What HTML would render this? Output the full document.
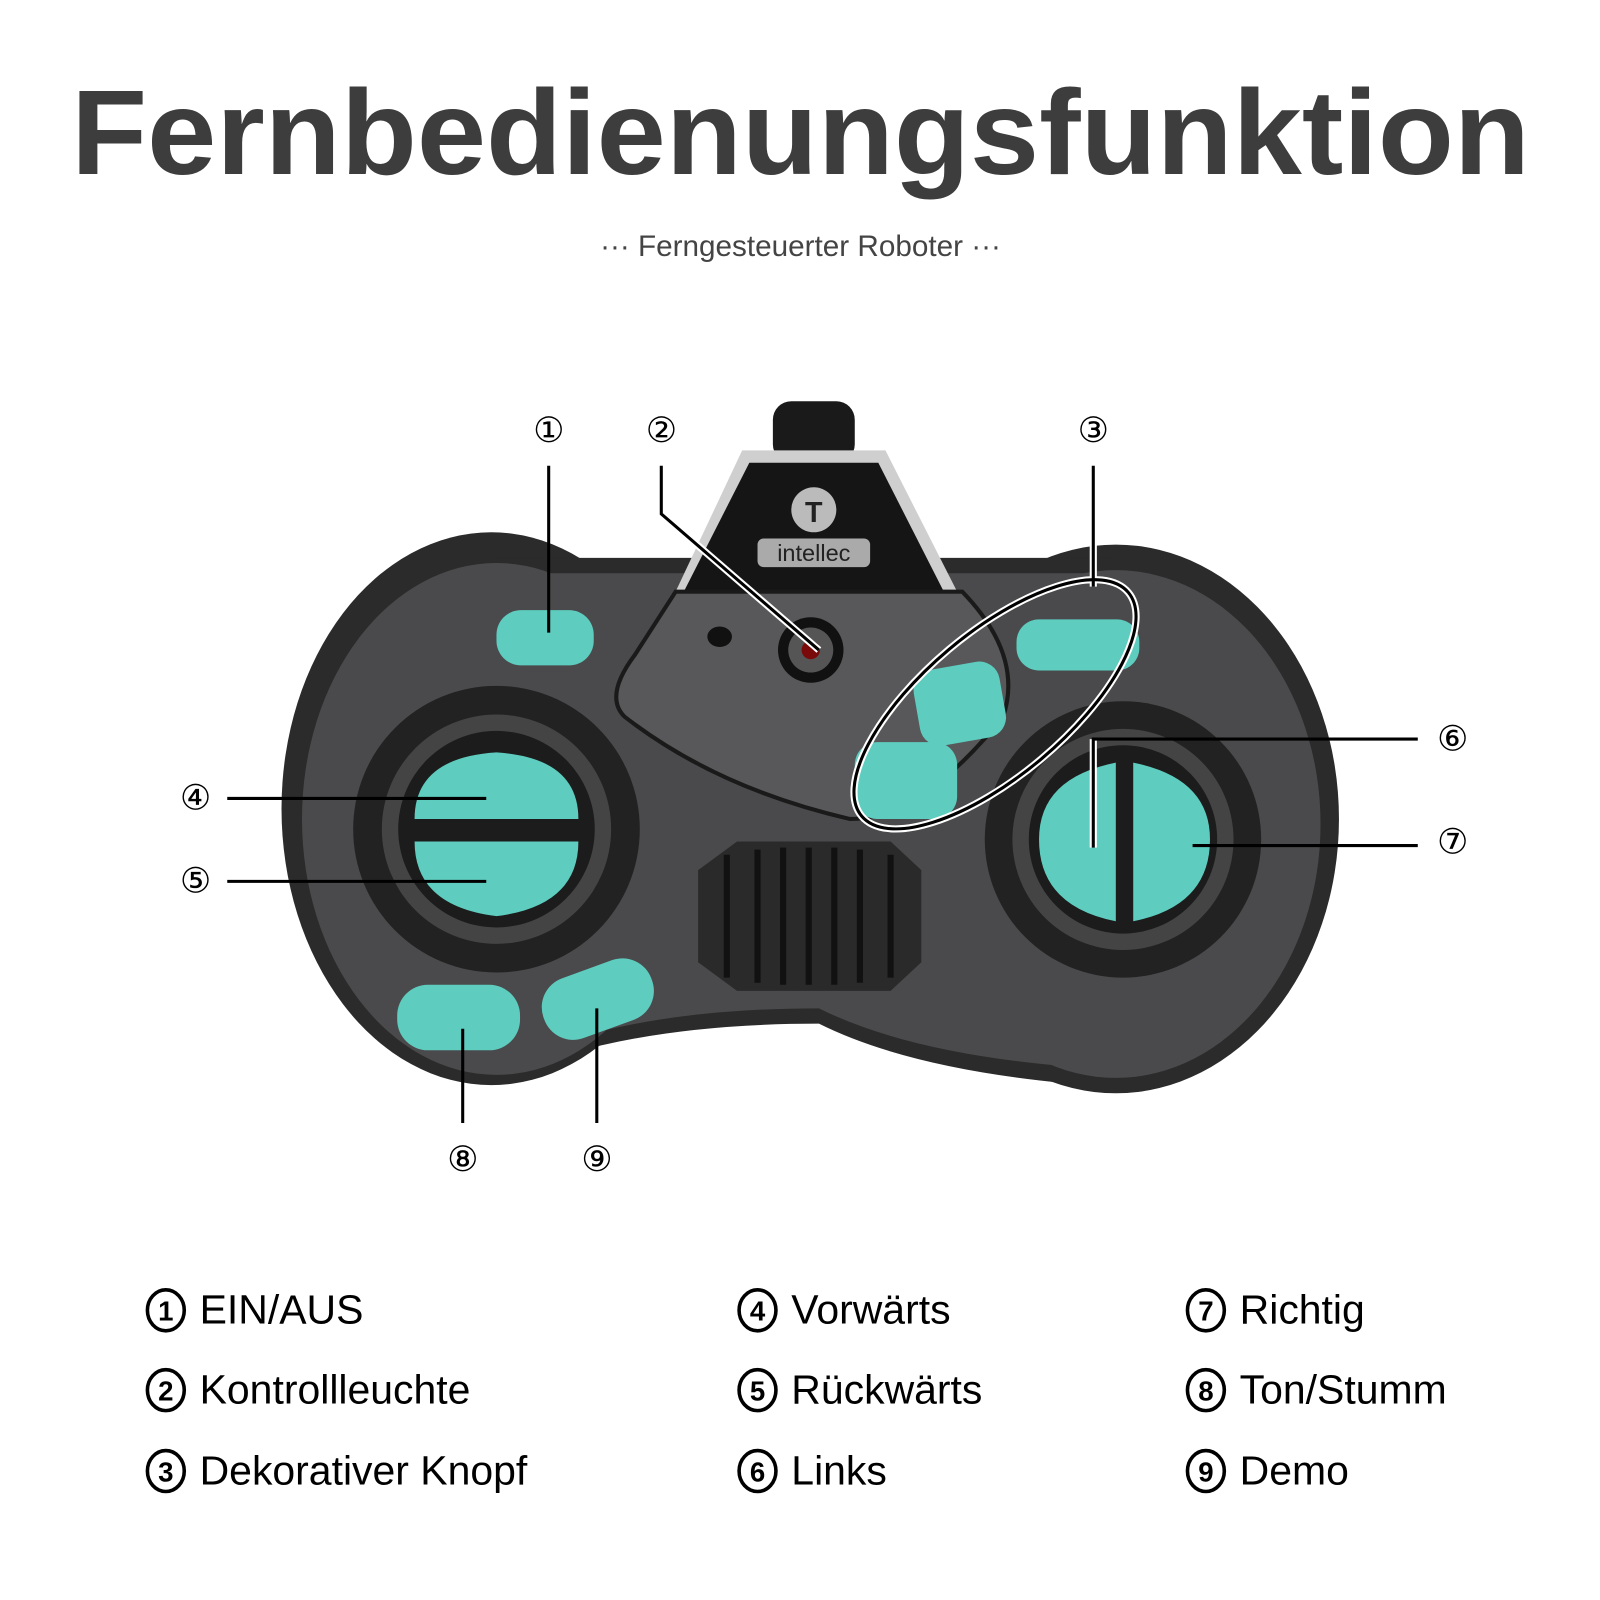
<!DOCTYPE html>
<html><head><meta charset="utf-8"><style>
html,body{margin:0;padding:0;background:#fff;width:1600px;height:1600px;overflow:hidden}
svg{display:block}
</style></head><body>
<svg width="1600" height="1600" viewBox="0 0 1563 1563" xmlns="http://www.w3.org/2000/svg" font-family="Liberation Sans, sans-serif">
<rect width="1563" height="1563" fill="#fff"/>
<text x="782" y="170" text-anchor="middle" font-size="118" font-weight="bold" fill="#3d3d3d" textLength="1425" lengthAdjust="spacingAndGlyphs">Fernbedienungsfunktion</text>
<text x="782" y="250" text-anchor="middle" font-size="29" fill="#444">···  Ferngesteuerter Roboter  ···</text>

<!-- body -->
<g>
<ellipse cx="480" cy="790" rx="205" ry="270" fill="#2b2b2b"/>
<ellipse cx="1090" cy="800" rx="218" ry="268" fill="#2b2b2b"/>
<path d="M480,545 L1090,545 L1090,1062 Q900,1050 800,1000 Q600,1000 480,1058 Z" fill="#2b2b2b"/>
<ellipse cx="485" cy="800" rx="190" ry="250" fill="#4a4a4c"/>
<ellipse cx="1090" cy="805" rx="200" ry="248" fill="#4a4a4c"/>
<path d="M485,560 L1090,560 L1090,1045 Q900,1035 800,985 Q600,985 485,1045 Z" fill="#4a4a4c"/>
</g>
<!-- antenna / top -->
<rect x="755" y="392" width="80" height="60" rx="18" fill="#1a1a1a"/>
<polygon points="725,440 865,440 935,578 660,578" fill="#cfcfcf"/>
<polygon points="732,452 858,452 922,578 668,578" fill="#151515"/>
<circle cx="795" cy="498" r="22" fill="#bbb"/>
<text x="795" y="510" text-anchor="middle" font-size="28" font-weight="bold" fill="#222">T</text>
<rect x="740" y="526" width="110" height="28" rx="6" fill="#aaa"/>
<text x="795" y="548" text-anchor="middle" font-size="23" fill="#222">intellec</text>
<g>
<!-- center panel -->
<path d="M660,578 L940,578 Q1000,640 980,700 Q900,800 830,800 Q700,770 610,700 Q590,680 620,640 Z" fill="#58585a" stroke="#1a1a1a" stroke-width="4"/>
<ellipse cx="703" cy="622" rx="12" ry="10" fill="#111"/>
<circle cx="792" cy="635" r="32" fill="#111"/>
<circle cx="792" cy="635" r="22" fill="#555"/>
<circle cx="792" cy="635" r="9" fill="#7a0a0a"/>
<!-- left dpad -->
<circle cx="485" cy="810" r="140" fill="#222"/>
<circle cx="485" cy="810" r="112" fill="#444"/>
<circle cx="485" cy="810" r="96" fill="#1c1c1c"/>
<path d="M405,800 Q405,740 485,735 Q565,740 565,800 Z" fill="#5ecdbf"/>
<path d="M405,822 Q405,885 485,895 Q565,885 565,822 Z" fill="#5ecdbf"/>
<!-- right dpad -->
<circle cx="1097" cy="820" r="135" fill="#222"/>
<circle cx="1097" cy="820" r="108" fill="#444"/>
<circle cx="1097" cy="820" r="92" fill="#1c1c1c"/>
<path d="M1090,745 Q1015,760 1015,820 Q1015,885 1090,900 Z" fill="#5ecdbf"/>
<path d="M1107,745 Q1182,760 1182,820 Q1182,885 1107,900 Z" fill="#5ecdbf"/>
<!-- speaker -->
<polygon points="720,822 870,822 900,850 900,940 870,968 720,968 682,940 682,850" fill="#2a2a2a"/>
<g stroke="#111" stroke-width="6">
<line x1="710" y1="835" x2="710" y2="955"/><line x1="740" y1="830" x2="740" y2="960"/><line x1="765" y1="828" x2="765" y2="962"/><line x1="790" y1="828" x2="790" y2="962"/><line x1="815" y1="828" x2="815" y2="962"/><line x1="840" y1="830" x2="840" y2="960"/><line x1="870" y1="835" x2="870" y2="955"/>
</g>
<!-- teal buttons -->
<rect x="485" y="596" width="95" height="54" rx="24" fill="#5ecdbf"/>
<rect x="993" y="605" width="120" height="50" rx="22" fill="#5ecdbf"/>
<rect x="895" y="650" width="85" height="75" rx="20" fill="#5ecdbf" transform="rotate(-10 937 687)"/>
<rect x="835" y="725" width="100" height="75" rx="22" fill="#5ecdbf"/>
<rect x="388" y="962" width="120" height="64" rx="30" fill="#5ecdbf"/>
<rect x="528" y="945" width="112" height="62" rx="30" fill="#5ecdbf" transform="rotate(-20 584 976)"/>
</g>

<!-- callout lines -->
<g stroke="#fff" stroke-width="7" fill="none">
<line x1="1068" y1="455" x2="1068" y2="573"/>
<ellipse cx="972" cy="688" rx="170" ry="70" transform="rotate(-40 972 688)"/>
<polyline points="646,502 800,635"/>
<polyline points="1068,722 1068,828"/>
</g>
<g stroke="#000" stroke-width="3" fill="none">
<line x1="536" y1="455" x2="536" y2="618"/>
<polyline points="646,455 646,502 800,635"/>
<line x1="1068" y1="455" x2="1068" y2="573"/>
<ellipse cx="972" cy="688" rx="170" ry="70" transform="rotate(-40 972 688)"/>
<line x1="222" y1="780" x2="475" y2="780"/>
<line x1="222" y1="861" x2="475" y2="861"/>
<polyline points="1385,722 1068,722 1068,828"/>
<line x1="1385" y1="826" x2="1165" y2="826"/>
<line x1="452" y1="1005" x2="452" y2="1097"/>
<line x1="583" y1="985" x2="583" y2="1097"/>
</g>
<g font-size="34" fill="#000" text-anchor="middle">
<text x="536" y="432">①</text><text x="646" y="432">②</text><text x="1068" y="432">③</text>
<text x="191" y="791">④</text><text x="191" y="872">⑤</text>
<text x="1419" y="733">⑥</text><text x="1419" y="834">⑦</text>
<text x="452" y="1144">⑧</text><text x="583" y="1144">⑨</text>
</g>

<!-- legend -->
<g fill="none" stroke="#000" stroke-width="3.5">
<ellipse cx="162" cy="1280" rx="18" ry="20"/><ellipse cx="162" cy="1358" rx="18" ry="20"/><ellipse cx="162" cy="1437" rx="18" ry="20"/>
<ellipse cx="740" cy="1280" rx="18" ry="20"/><ellipse cx="740" cy="1358" rx="18" ry="20"/><ellipse cx="740" cy="1437" rx="18" ry="20"/>
<ellipse cx="1178" cy="1280" rx="18" ry="20"/><ellipse cx="1178" cy="1358" rx="18" ry="20"/><ellipse cx="1178" cy="1437" rx="18" ry="20"/>
</g>
<g font-size="27" font-weight="bold" fill="#000" text-anchor="middle">
<text x="162" y="1290">1</text><text x="162" y="1368">2</text><text x="162" y="1447">3</text>
<text x="740" y="1290">4</text><text x="740" y="1368">5</text><text x="740" y="1447">6</text>
<text x="1178" y="1290">7</text><text x="1178" y="1368">8</text><text x="1178" y="1447">9</text>
</g>
<g font-size="40" fill="#000">
<text x="195" y="1293">EIN/AUS</text>
<text x="195" y="1371">Kontrollleuchte</text>
<text x="195" y="1450">Dekorativer Knopf</text>
<text x="773" y="1293">Vorwärts</text>
<text x="773" y="1371">Rückwärts</text>
<text x="773" y="1450">Links</text>
<text x="1211" y="1293">Richtig</text>
<text x="1211" y="1371">Ton/Stumm</text>
<text x="1211" y="1450">Demo</text>
</g>
</svg>
</body></html>
